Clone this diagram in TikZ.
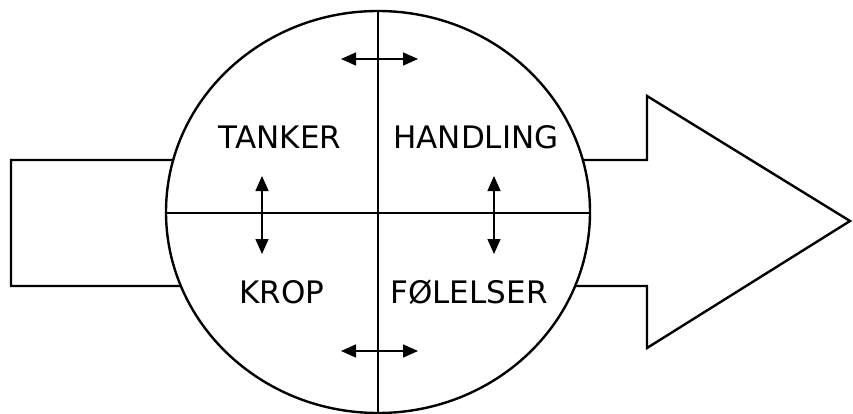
\documentclass[tikz,border=0pt]{standalone}
\usepackage{fontspec}
\setmainfont{DejaVu Sans}
\usetikzlibrary{arrows.meta}
\begin{document}
\begin{tikzpicture}[x=1pt,y=-1pt,
  outline/.style={draw=black,line width=2.4pt,fill=white,line join=miter},
  label/.style={font=\fontsize{31}{33}\selectfont,inner sep=0pt,anchor=center},
  dbl/.style={line width=1.5pt,{Triangle[length=15pt,width=13pt]}-{Triangle[length=15pt,width=13pt]}}]
\useasboundingbox (0,0) rectangle (853,414);
% big arrow
\draw[outline] (11,160) -- (647,160) -- (647,96) -- (850,221) -- (647,348) -- (647,286) -- (11,286) -- cycle;
% circle
\draw[outline] (378,212) ellipse [x radius=212, y radius=201];
\coordinate (top) at (378,11);
\coordinate (bot) at (378,413);
\coordinate (lft) at (166,213);
\coordinate (rgt) at (590,213);
\draw[line width=2.4pt] (top) -- (bot);
\draw[line width=2.4pt] (lft) -- (rgt);
% labels
\node[label] (tanker) at (280,137) {TANKER};
\node[label] (handling) at (476,137) {HANDLING};
\node[label] (krop) at (282,292) {KROP};
\node[label] (folelser) at (469,292) {FØLELSER};
% double arrows
\coordinate (a1) at (341,59);
\coordinate (a2) at (418,59);
\coordinate (b1) at (341,351);
\coordinate (b2) at (418,351);
\coordinate (c1) at (262,176);
\coordinate (c2) at (262,254);
\coordinate (d1) at (494,176);
\coordinate (d2) at (494,254);
\draw[dbl] (a1) -- (a2);
\draw[dbl] (b1) -- (b2);
\draw[dbl] (c1) -- (c2);
\draw[dbl] (d1) -- (d2);
\end{tikzpicture}
\end{document}
